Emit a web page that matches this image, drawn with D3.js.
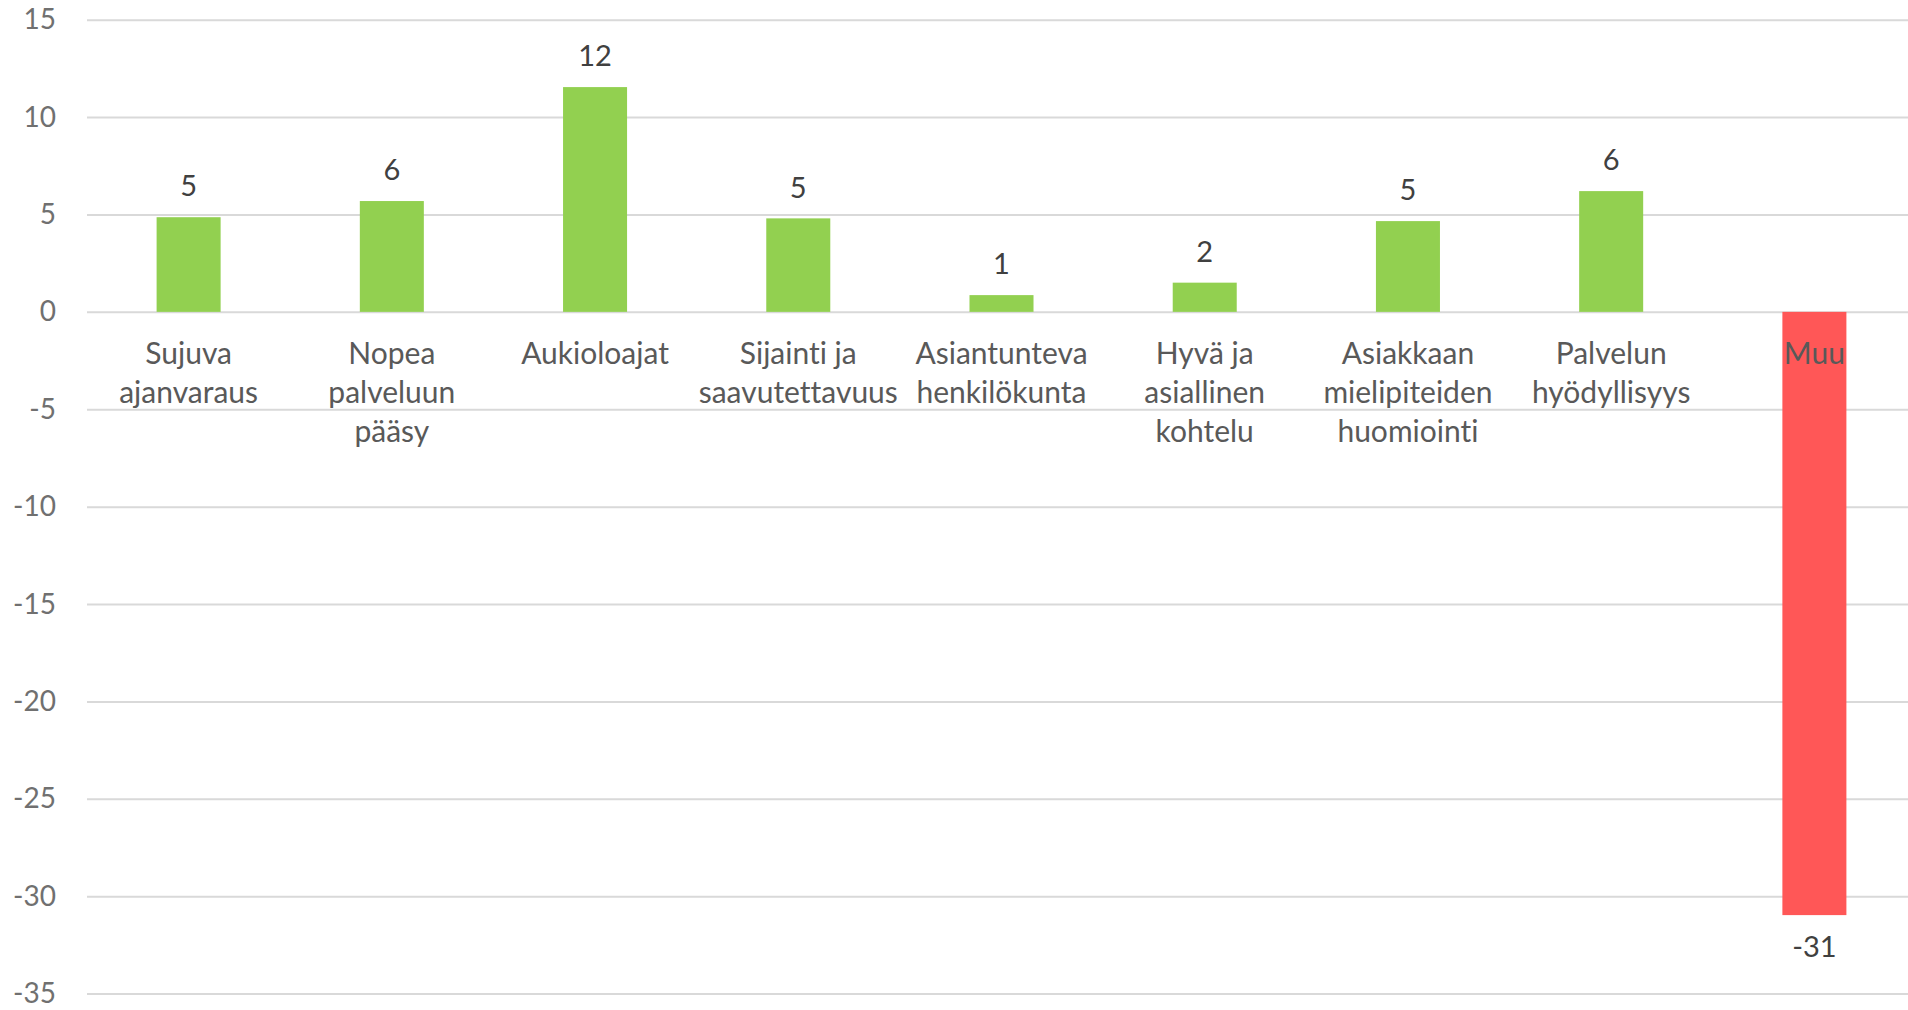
<!DOCTYPE html>
<html>
<head>
<meta charset="utf-8">
<script src="https://cdn.jsdelivr.net/npm/d3@7"></script>
<style>
  body { margin: 0; background: #fff; }
  svg { display: block; font-family: Lato, "Open Sans", sans-serif; font-variant-ligatures: none; }
</style>
</head>
<body>
<svg id="chart"></svg>
<script>
// data
const categories = [
  ["Sujuva", "ajanvaraus"],
  ["Nopea", "palveluun", "pääsy"],
  ["Aukioloajat"],
  ["Sijainti ja", "saavutettavuus"],
  ["Asiantunteva", "henkilökunta"],
  ["Hyvä ja", "asiallinen", "kohtelu"],
  ["Asiakkaan", "mielipiteiden", "huomiointi"],
  ["Palvelun", "hyödyllisyys"],
  ["Muu"]
];
const values = [4.86, 5.69, 11.54, 4.8, 0.86, 1.5, 4.66, 6.2, -30.97];
const yTicks = [15, 10, 5, 0, -5, -10, -15, -20, -25, -30, -35];

const width = 1908;
const height = 1010;

// plain hyphen for negatives, like the original
const fmt = d => String(Math.round(d));

const svg = d3.select("#chart")
  .attr("width", width)
  .attr("height", height);

const keys = categories.map((c, i) => i);

const x = d3.scaleBand()
  .domain(keys)
  .range([87, 1916])
  .paddingInner(0.685)
  .paddingOuter(0.3425);

const y = d3.scaleLinear()
  .domain([-35, 15])
  .range([993.6, 19.7]);

// gridlines + tick labels
const yAxis = svg.append("g")
  .attr("transform", "translate(87,0)")
  .call(d3.axisLeft(y).tickValues(yTicks).tickSize(-(width - 87)).tickPadding(31).tickFormat(fmt));
yAxis.select(".domain").remove();
yAxis.selectAll(".tick line").attr("stroke", "#d9d9d9").attr("stroke-width", 2);
yAxis.selectAll(".tick text")
  .attr("fill", "#707070")
  .style("font-size", "28px")
  .style("font-family", "Lato, 'Open Sans', sans-serif");

// bars
svg.append("g").selectAll("rect")
  .data(values)
  .enter()
  .append("rect")
  .attr("x", (d, i) => x(i))
  .attr("y", d => y(Math.max(0, d)))
  .attr("width", x.bandwidth())
  .attr("height", d => Math.abs(y(d) - y(0)))
  .attr("fill", d => d < 0 ? "#ff5757" : "#92d050");

// value labels
svg.append("g").selectAll("text")
  .data(values)
  .enter()
  .append("text")
  .attr("x", (d, i) => x(i) + x.bandwidth() / 2)
  .attr("y", d => d < 0 ? y(d) + 32 : y(d) - 31)
  .attr("dy", "0.35em")
  .attr("text-anchor", "middle")
  .attr("fill", "#404040")
  .style("font-size", "29px")
  .text(fmt);

// category labels below zero line
const labels = svg.append("g").selectAll("text")
  .data(categories)
  .enter()
  .append("text")
  .attr("x", (d, i) => x(i) + x.bandwidth() / 2)
  .attr("y", 353)
  .attr("text-anchor", "middle")
  .attr("fill", "#595959")
  .style("font-size", "30px");

labels.selectAll("tspan")
  .data(d => d)
  .enter()
  .append("tspan")
  .attr("x", function () { return d3.select(this.parentNode).attr("x"); })
  .attr("dy", (d, i) => i === 0 ? "0.35em" : "39px")
  .text(d => d);
</script>
</body>
</html>
